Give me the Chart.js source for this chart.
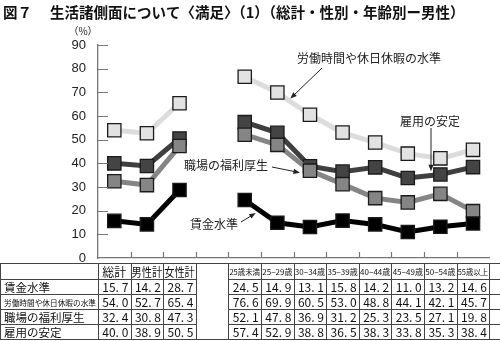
<!DOCTYPE html>
<html>
<head>
<meta charset="utf-8">
<script src="https://cdn.jsdelivr.net/npm/chart.js@4.4.0/dist/chart.umd.min.js"></script>
<style>
  html, body { margin: 0; padding: 0; background: #fff; }
  #wrap { position: relative; width: 500px; height: 341px; }
</style>
</head>
<body>
<div id="wrap"><canvas id="c" width="500" height="341"></canvas></div>
<script>
// Categories: totals, sex, an empty spacer column, then age groups (men)
const categories = ['総計', '男性計', '女性計', '', '25歳未満', '25−29歳', '30−34歳', '35−39歳', '40−44歳', '45−49歳', '50−54歳', '55歳以上'];

// Share of respondents "satisfied" (%)
const wageLevel     = [15.7, 14.2, 28.7, null, 24.5, 14.9, 13.1, 15.8, 14.2, 11.0, 13.2, 14.6];
const hoursHolidays = [54.0, 52.7, 65.4, null, 76.6, 69.9, 60.5, 53.0, 48.8, 44.1, 42.1, 45.7];
const welfare       = [32.4, 30.8, 47.3, null, 52.1, 47.8, 36.9, 31.2, 25.3, 23.5, 27.1, 19.8];
const jobSecurity   = [40.0, 38.9, 50.5, null, 57.4, 52.9, 38.8, 36.5, 38.3, 33.8, 35.3, 38.4];

const seriesNames = ['賃金水準', '労働時間や休日休暇の水準', '職場の福利厚生', '雇用の安定'];
const yTicks = [0, 10, 20, 30, 40, 50, 60, 70, 80, 90];

const JP = '"Noto Sans CJK JP", "Noto Sans", sans-serif';

function series(label, data, lineColor, fill, order) {
  return {
    label, data, order,
    borderColor: lineColor,
    borderWidth: 5,
    pointStyle: 'rect',
    pointRadius: 9.4,
    pointHoverRadius: 9.4,
    pointBackgroundColor: fill,
    pointBorderColor: '#1a1a1a',
    pointBorderWidth: 1.3,
    spanGaps: false,
    tension: 0
  };
}

function arrow(ctx, x1, y1, x2, y2) {
  const a = Math.atan2(y2 - y1, x2 - x1), L = 7, s = 0.38;
  ctx.beginPath();
  ctx.moveTo(x1, y1);
  ctx.lineTo(x2 - Math.cos(a) * 4, y2 - Math.sin(a) * 4);
  ctx.stroke();
  ctx.beginPath();
  ctx.moveTo(x2, y2);
  ctx.lineTo(x2 - L * Math.cos(a - s), y2 - L * Math.sin(a - s));
  ctx.lineTo(x2 - L * Math.cos(a + s), y2 - L * Math.sin(a + s));
  ctx.closePath();
  ctx.fill();
}

const decorations = {
  id: 'decorations',
  afterDraw(chart) {
    const ctx = chart.ctx;
    const xs = chart.scales.x, ys = chart.scales.y;
    const area = chart.chartArea;
    const w = xs.getPixelForValue(1) - xs.getPixelForValue(0);
    const left0 = xs.getPixelForValue(0) - w / 2;
    const px = i => xs.getPixelForValue(i);
    const py = v => ys.getPixelForValue(v);

    ctx.save();

    // Title
    ctx.fillStyle = '#111';
    ctx.textBaseline = 'middle';
    ctx.textAlign = 'left';
    ctx.font = 'bold 14.5px ' + JP;
    ctx.fillText('図７', 3, 12);
    ctx.fillText('生活諸側面について〈満足〉（1）（総計・性別・年齢別ー男性）', 50, 12);

    // Unit label
    ctx.font = '10px ' + JP;
    ctx.textAlign = 'center';
    ctx.fillStyle = '#222';
    ctx.fillText('（%）', 83, 31);

    // Inner tick marks on both axes
    ctx.strokeStyle = '#777';
    ctx.lineWidth = 1.2;
    ctx.beginPath();
    yTicks.forEach(v => {
      if (v === 0) return;
      const y = Math.round(py(v)) + 0.5;
      ctx.moveTo(area.left, y);
      ctx.lineTo(area.left + 10, y);
    });
    for (let k = 1; k < categories.length; k++) {
      const x = Math.round(left0 + k * w) + 0.5;
      ctx.moveTo(x, area.bottom);
      ctx.lineTo(x, area.bottom - 6);
    }
    ctx.stroke();

    // Series callouts
    ctx.fillStyle = '#222';
    ctx.strokeStyle = '#222';
    ctx.lineWidth = 1;
    ctx.font = '12px ' + JP;
    ctx.textAlign = 'left';
    ctx.fillText(seriesNames[1], 297, 58);
    arrow(ctx, 322, 68, px(5) + 13, py(hoursHolidays[5]) + 6);

    ctx.textAlign = 'center';
    ctx.fillText(seriesNames[3], 430, 121);
    arrow(ctx, 431, 128, 431, (py(jobSecurity[9]) + py(jobSecurity[10])) / 2 - 5);

    ctx.textAlign = 'right';
    ctx.fillText(seriesNames[2], 268, 165);
    arrow(ctx, 272, 167, px(6) - 10, py(welfare[6]) + 2);

    ctx.fillText(seriesNames[0], 238, 224);
    arrow(ctx, 241, 222, px(4) + 11, py(wageLevel[4]) + 13);

    // Data table below the plot
    const rowsY = [263, 279, 294, 309, 324, 339];
    const gapL = Math.round(left0 + 3 * w) + 0.5;
    const gapR = Math.round(left0 + 4 * w) + 0.5;
    ctx.strokeStyle = '#444';
    ctx.lineWidth = 1;
    ctx.beginPath();
    rowsY.forEach((y, r) => {
      const yy = y + 0.5;
      if (r === 0 || r === rowsY.length - 1) {
        ctx.moveTo(0, yy); ctx.lineTo(500, yy);
      } else {
        ctx.moveTo(0, yy); ctx.lineTo(gapL, yy);
        ctx.moveTo(gapR, yy); ctx.lineTo(500, yy);
      }
    });
    const vx = [0.5];
    for (let k = 0; k <= categories.length; k++) vx.push(Math.min(Math.round(left0 + k * w) + 0.5, 499.5));
    vx.forEach(x => { ctx.moveTo(x, rowsY[0]); ctx.lineTo(x, rowsY[rowsY.length - 1] + 0.5); });
    ctx.stroke();

    const mid = r => (rowsY[r] + rowsY[r + 1]) / 2 + 1;
    ctx.fillStyle = '#111';
    ctx.textBaseline = 'middle';

    // header row
    categories.forEach((c, i) => {
      if (!c) return;
      ctx.textAlign = 'center';
      if (i < 3) {
        ctx.font = '12px ' + JP;
        ctx.fillText(c, px(i), mid(0), w - 2);
      } else {
        ctx.font = '8px ' + JP;
        ctx.fillText(c, px(i), mid(0), w - 2);
      }
    });

    // row labels and values
    const rows = [wageLevel, hoursHolidays, welfare, jobSecurity];
    rows.forEach((vals, r) => {
      ctx.textAlign = 'left';
      ctx.font = (r === 1 ? '8px ' : '11.5px ') + JP;
      ctx.fillText(seriesNames[r], 4, mid(r + 1), left0 - 6);
      ctx.textAlign = 'center';
      ctx.font = '12px ' + JP;
      vals.forEach((v, i) => {
        if (v === null) return;
        ctx.fillText(v.toFixed(1).replace('.', '. '), px(i) + 1, mid(r + 1));
      });
    });

    ctx.restore();
  }
};

new Chart(document.getElementById('c'), {
  type: 'line',
  data: {
    labels: categories,
    datasets: [
      series(seriesNames[0], wageLevel, '#000000', '#000000', 0),
      series(seriesNames[1], hoursHolidays, '#dcdcdc', '#e2e2e2', 3),
      series(seriesNames[2], welfare, '#858585', '#858585', 1),
      series(seriesNames[3], jobSecurity, '#3f3f3f', '#444444', 2)
    ]
  },
  options: {
    responsive: false,
    devicePixelRatio: 1,
    animation: false,
    events: [],
    layout: { padding: { top: 45, right: 0, bottom: 83, left: 0 } },
    plugins: { legend: { display: false }, tooltip: { enabled: false }, title: { display: false } },
    scales: {
      x: {
        type: 'category',
        offset: true,
        grid: { display: false },
        border: { display: true, color: '#777', width: 1.3 },
        ticks: { display: false },
        afterFit(s) { s.height = 0; }
      },
      y: {
        min: 0, max: 90,
        afterBuildTicks(s) { s.ticks = yTicks.map(v => ({ value: v })); },
        grid: { display: false },
        border: { display: true, color: '#777', width: 1.3 },
        ticks: { color: '#222', padding: 4, font: { family: '"Liberation Sans", Arial, sans-serif', size: 13 } },
        afterFit(s) { s.width = 98; }
      }
    }
  },
  plugins: [decorations]
});
</script>
</body>
</html>
